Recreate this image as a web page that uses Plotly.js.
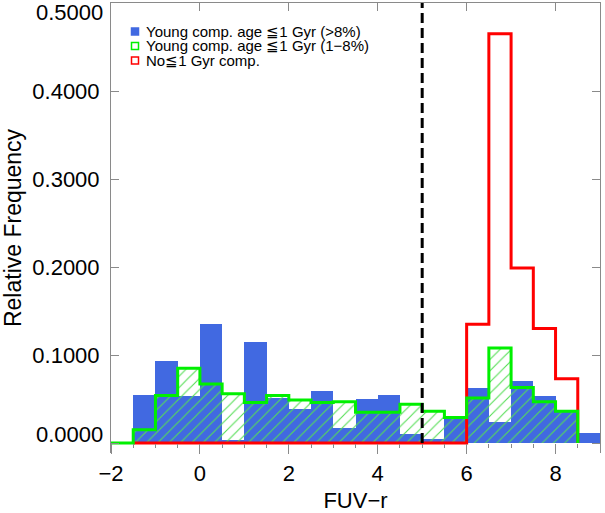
<!DOCTYPE html>
<html>
<head>
<meta charset="utf-8">
<script src="https://cdn.plot.ly/plotly-3.0.1.min.js"></script>
<style>html,body{margin:0;padding:0;background:#fff;}#chart{width:605px;height:513px;}</style>
</head>
<body>
<div id="chart"></div>
<script>
// ---- data ----
const binEdges = [-2, -1.5, -1, -0.5, 0, 0.5, 1, 1.5, 2, 2.5, 3, 3.5, 4, 4.5, 5, 5.5, 6, 6.5, 7, 7.5, 8, 8.5, 9];
// Young comp. age <=1 Gyr (>8%)  (blue filled)
const youngHigh = [0, 0.055, 0.093, 0.053, 0.135, 0.003, 0.115, 0.051, 0.039, 0.059, 0.017, 0.050, 0.055, 0.010, 0.004, 0.029, 0.062, 0.024, 0.070, 0.053, 0.036, 0.011];
// Young comp. age <=1 Gyr (1-8%)  (green hatched)
const youngMid = [0, 0.015, 0.054, 0.085, 0.067, 0.056, 0.046, 0.054, 0.049, 0.046, 0.047, 0.035, 0.035, 0.044, 0.036, 0.029, 0.051, 0.108, 0.063, 0.047, 0.036, 0];
// No <=1 Gyr comp.  (red outline)
const noYoung = [0, 0, 0, 0, 0, 0, 0, 0, 0, 0, 0, 0, 0, 0, 0, 0, 0.135, 0.465, 0.199, 0.130, 0.073, 0];
const greenRange = [0, 20];   // bins drawn in the green outline
const redRange = [1, 20];     // bins drawn in the red outline
const cutValue = 5;           // vertical dashed line
const yTicks = [0, 0.1, 0.2, 0.3, 0.4, 0.5];
const yTickText = ['0.0000', '0.1000', '0.2000', '0.3000', '0.4000', '0.5000'];
const legendLabels = ['Young comp. age \u22661 Gyr (>8%)', 'Young comp. age \u22661 Gyr (1\u22128%)', 'No\u22661 Gyr comp.'];

// ---- helpers ----
const binLeft = binEdges.slice(0, -1);
const binWidth = binEdges[1] - binEdges[0];
function stepLine(vals, r) {
  const x = binEdges.slice(r[0], r[1] + 2);
  const y = vals.slice(r[0], r[1] + 1).concat([0]);
  return {x, y};
}
const gLine = stepLine(youngMid, greenRange);
const rLine = stepLine(noYoung, redRange);

const BLUE = '#4169E1', GREEN = '#00F000', RED = '#FF0000', FRAME = '#8a8a8a';

const traces = [
  {type: 'bar', x: binLeft, y: youngHigh, width: binWidth, offset: 0,
   marker: {color: BLUE, line: {width: 0}}, hoverinfo: 'skip'},
  {type: 'bar', x: binLeft, y: youngMid, width: binWidth, offset: 0,
   marker: {color: 'rgba(0,0,0,0)', line: {width: 0},
            pattern: {shape: '/', fillmode: 'replace', fgcolor: '#55DD55', bgcolor: 'rgba(0,0,0,0)', size: 8, solidity: 0.14}},
   hoverinfo: 'skip'},
  {type: 'scatter', mode: 'lines', x: rLine.x, y: rLine.y, line: {shape: 'hv', color: RED, width: 3}, hoverinfo: 'skip'},
  {type: 'scatter', mode: 'lines', x: gLine.x, y: gLine.y, line: {shape: 'hv', color: GREEN, width: 3}, hoverinfo: 'skip'},
  {type: 'scatter', mode: 'lines', x: [cutValue, cutValue], y: [yTicks[0], yTicks[yTicks.length - 1]], xaxis: 'x2', yaxis: 'y',
   line: {color: '#000', width: 3, dash: '10px,5px'}, hoverinfo: 'skip'}
];

// pixel helpers for the plot area
const L = 111, R = 5, T = 3, B = 60, W = 605, H = 513;
const PW = W - L - R, PH = H - T - B;
const yMin = -0.01136, yMax = 0.5;
const px = p => (p - L) / PW;
const py = p => (H - B - p) / PH;

const annotations = [];
const shapes = [];
const legendY = [31.5, 46, 60.5];
const legendFill = [BLUE, '#ffffff', '#ffffff'];
const legendLine = [BLUE, GREEN, RED];
legendLabels.forEach((t, i) => {
  annotations.push({xref: 'paper', yref: 'paper', x: px(145), y: py(legendY[i]), xanchor: 'left', yanchor: 'middle',
    text: t, showarrow: false, borderpad: 0, font: {size: 15, color: '#000'}});
  shapes.push({type: 'rect', xref: 'paper', yref: 'paper', x0: px(131.5), x1: px(138.5), y0: py(legendY[i] + 3.5), y1: py(legendY[i] - 3.5),
    fillcolor: legendFill[i], line: {color: legendLine[i], width: 1.5}});
});
// end labels of the y axis (drawn nudged inside the frame like the reference)
annotations.push({xref: 'paper', yref: 'paper', x: px(104), y: py(434), xanchor: 'right', yanchor: 'middle', text: yTickText[0], showarrow: false, borderpad: 0, font: {size: 22}});
annotations.push({xref: 'paper', yref: 'paper', x: px(104), y: py(12), xanchor: 'right', yanchor: 'middle', text: yTickText[5], showarrow: false, borderpad: 0, font: {size: 22}});

const layout = {
  width: W, height: H,
  margin: {l: L, r: R, t: T, b: B, pad: 0},
  paper_bgcolor: '#fff', plot_bgcolor: '#fff',
  font: {family: 'Liberation Sans, Arial, sans-serif', size: 22, color: '#000'},
  barmode: 'overlay', bargap: 0, showlegend: false,
  xaxis: {range: [binEdges[0], binEdges[binEdges.length - 1]], anchor: 'free', position: (0 - yMin) / (yMax - yMin),
    showline: false, ticks: 'outside', ticklen: 10, tickwidth: 1, tickcolor: FRAME, tick0: 0, dtick: 2,
    minor: {dtick: 0.5, tick0: 0, ticks: 'outside', ticklen: 4, tickwidth: 1, tickcolor: FRAME},
    showgrid: false, zeroline: false, tickfont: {size: 22}, ticklabelstandoff: 1,
    title: {text: 'FUV\u2212r', font: {size: 22}, standoff: 15}, automargin: false},
  xaxis2: {range: [binEdges[0], binEdges[binEdges.length - 1]], overlaying: 'x', side: 'top', anchor: 'y',
    showline: true, linecolor: FRAME, linewidth: 1, ticks: 'inside', ticklen: 8, tickcolor: FRAME, tick0: 0, dtick: 2,
    showticklabels: false, showgrid: false, zeroline: false},
  yaxis: {range: [yMin, yMax], showline: true, linecolor: FRAME, linewidth: 1, mirror: 'ticks',
    ticks: 'inside', ticklen: 8, tickcolor: FRAME, tickvals: yTicks,
    ticktext: yTickText.map((t, i) => (i === 0 || i === yTicks.length - 1) ? '' : t),
    showgrid: false, zeroline: false, tickfont: {size: 22}, ticklabelstandoff: 6,
    title: {text: 'Relative Frequency', font: {size: 23}, standoff: 10}, automargin: false},
  annotations, shapes
};

Plotly.newPlot('chart', traces, layout, {staticPlot: true, displayModeBar: false});
</script>
</body>
</html>
